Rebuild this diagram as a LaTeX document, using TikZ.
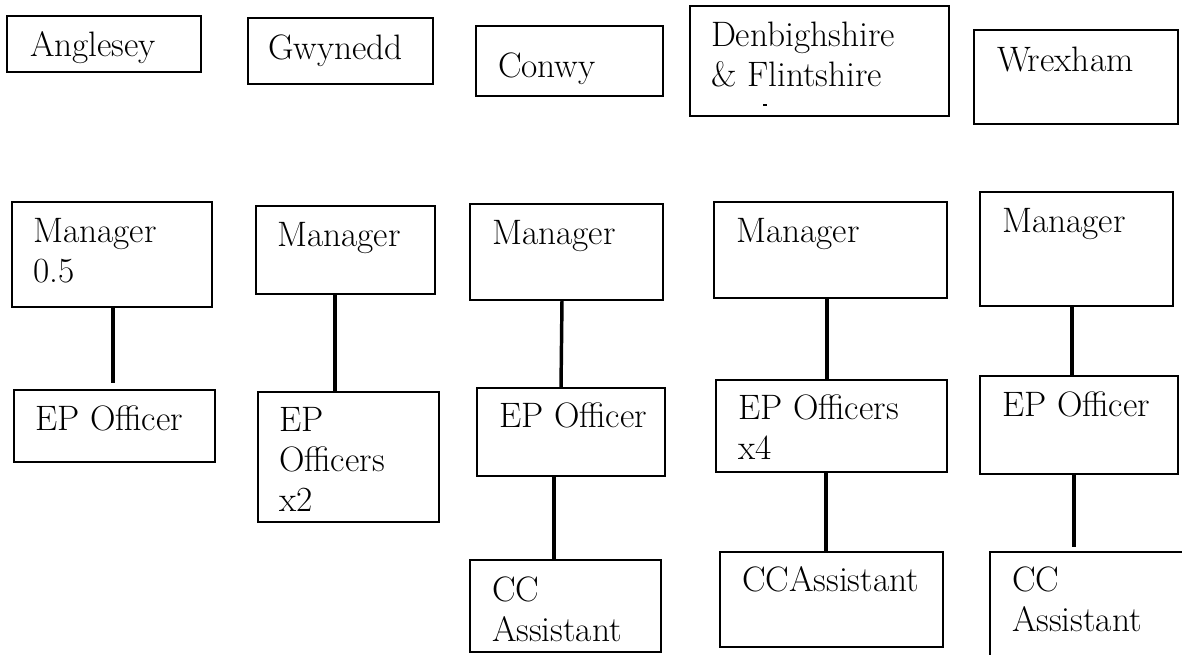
\documentclass[tikz,border=0pt]{standalone}
\usepackage{fontspec}
\usetikzlibrary{fit}
\tikzset{
  box/.style={draw=black, line width=1.5pt, inner sep=0pt, outer sep=0pt, rectangle},
  txt/.style={inner sep=0pt, outer sep=0pt, anchor=base west, align=left, font=\fontsize{26.5}{30}\selectfont},
  conn/.style={draw=black, line width=2.6pt}
}
\begin{document}
\begin{tikzpicture}[x=0.75pt, y=-0.75pt]
\useasboundingbox (0,0) rectangle (1182,655);
% top row
\node[box, fit={(7,16) (201,72)}] (a0) {};
\node[txt] (a0t) at (30,57) {Anglesey};
\node[box, fit={(248,18) (433,84)}] (g0) {};
\node[txt] (g0t) at (268,60) {Gwynedd};
\node[box, fit={(476,26) (663,96)}] (c0) {};
\node[txt] (c0t) at (498,78) {Conwy};
\node[box, fit={(690,6) (949,116)}] (d0) {};
\node[txt] (d0t) at (711,87) {Denbighshire\\\& Flintshire};
\fill[black] (763,104) rectangle (767,106);
\node[box, fit={(974,30) (1178,124)}] (w0) {};
\node[txt] (w0t) at (997,72) {Wrexham};
% managers
\node[box, fit={(12,202) (212,307)}] (am) {};
\node[txt] (amt) at (33,283) {Manager\\0.5};
\node[box, fit={(256,206) (435,294)}] (gm) {};
\node[txt] (gmt) at (277,247) {Manager};
\node[box, fit={(470,204) (663,300)}] (cm) {};
\node[txt] (cmt) at (492,245) {Manager};
\node[box, fit={(714,202) (947,298)}] (dm) {};
\node[txt] (dmt) at (736,243) {Manager};
\node[box, fit={(980,192) (1173,306)}] (wm) {};
\node[txt] (wmt) at (1002,233) {Manager};
% EP officers
\node[box, fit={(14,390) (215,462)}] (ae) {};
\node[txt] (aet) at (35,431) {EP Officer};
\node[box, fit={(258,392) (439,522)}] (ge) {};
\node[txt] (get) at (279,512) {EP\\Officers\\x2};
\node[box, fit={(477,388) (665,476)}] (ce) {};
\node[txt] (cet) at (499,428) {EP Officer};
\node[box, fit={(716,380) (947,472)}] (de) {};
\node[txt] (det) at (738,460) {EP Officers\\x4};
\node[box, fit={(980,376) (1178,474)}] (we) {};
\node[txt] (wet) at (1002,417) {EP Officer};
% CC assistants
\node[box, fit={(470,560) (661,652)}] (cc) {};
\node[txt] (cct) at (492,642) {CC\\Assistant};
\node[box, fit={(720,552) (943,647)}] (dc) {};
\node[txt] (dct) at (742,592) {CCAssistant};
\node[box, fit={(990,552) (1195,680)}] (wc) {};
\node[txt] (wct) at (1012,632) {CC\\Assistant};
% connectors
\draw[conn, shorten >=5.25pt] (113,0 |- am.south) -- (113,0 |- ae.north);
\draw[conn] (335,0 |- gm.south) -- (335,0 |- ge.north);
\draw[conn] (562,0 |- cm.south) -- (561,0 |- ce.north);
\draw[conn] (827,0 |- dm.south) -- (827,0 |- de.north);
\draw[conn] (1072,0 |- wm.south) -- (1072,0 |- we.north);
\draw[conn] (554,0 |- ce.south) -- (554,0 |- cc.north);
\draw[conn] (826,0 |- de.south) -- (826,0 |- dc.north);
\draw[conn, shorten >=3.75pt] (1074,0 |- we.south) -- (1074,0 |- wc.north);
\end{tikzpicture}
\end{document}
